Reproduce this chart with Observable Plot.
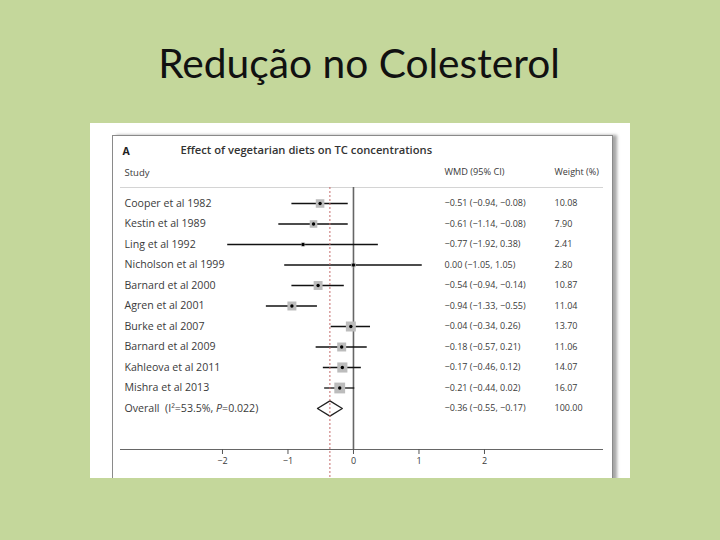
<!DOCTYPE html>
<html><head><meta charset="utf-8">
<script src="https://cdn.jsdelivr.net/npm/d3@7"></script>
<script src="https://cdn.jsdelivr.net/npm/@observablehq/plot@0.6"></script>
<style>
html,body{margin:0;padding:0;}
body{width:720px;height:540px;background:#c4d79b;position:relative;overflow:hidden;font-family:Lato, sans-serif;}
#title{position:absolute;left:0;top:42px;width:718px;text-align:center;font-size:40.7px;line-height:41px;color:#111;}
#card{position:absolute;left:90px;top:123px;width:540px;height:355px;background:#fff;overflow:hidden;}
#frame{position:absolute;left:22px;top:12px;width:499px;height:400px;border:1px solid #8a8a8a;box-shadow:4px 0 3px rgba(0,0,0,0.35);}
#chart{position:absolute;left:0;top:0;}
</style></head>
<body>
<div id="title">Redução no Colesterol</div>
<div id="card"><div id="frame"></div><div id="chart"></div></div>
<script>
const studies = ["Cooper et al 1982","Kestin et al 1989","Ling et al 1992","Nicholson et al 1999","Barnard et al 2000","Agren et al 2001","Burke et al 2007","Barnard et al 2009","Kahleova et al 2011","Mishra et al 2013"];
const wmd    = [-0.51,-0.61,-0.77, 0.00,-0.54,-0.94,-0.04,-0.18,-0.17,-0.21];
const ciLow  = [-0.94,-1.14,-1.92,-1.05,-0.94,-1.33,-0.34,-0.57,-0.46,-0.44];
const ciHigh = [-0.08,-0.08, 0.38, 1.05,-0.14,-0.55, 0.26, 0.21, 0.12, 0.02];
const weights = [10.08,7.90,2.41,2.80,10.87,11.04,13.70,11.06,14.07,16.07];
const overallLabel = "Overall  (I²=53.5%, P=0.022)";
const overallWmd = -0.36, overallLow = -0.55, overallHigh = -0.17, overallWeight = 100.00;
const xTicks = [-2,-1,0,1,2];
const panelLetter = "A";
const chartTitle = "Effect of vegetarian diets on TC concentrations";
const headers = ["Study","WMD (95% CI)","Weight (%)"];

const fmt = v => (v < 0 ? "−" : "") + Math.abs(v).toFixed(2);
const rows = studies.map((s,i)=>({i, study:s, wmd:wmd[i], lo:ciLow[i], hi:ciHigh[i], w:weights[i],
  ci:`${fmt(wmd[i])} (${fmt(ciLow[i])}, ${fmt(ciHigh[i])})`, wt:weights[i].toFixed(2)}));
const oi = studies.length;
const overallRow = [{i:oi, study:overallLabel, ci:`${fmt(overallWmd)} (${fmt(overallLow)}, ${fmt(overallHigh)})`, wt:overallWeight.toFixed(2)}];
const allRows = rows.concat(overallRow);
const dh = 0.37;
const diamond = [
  {x:overallLow, y:oi},{x:overallWmd, y:oi-dh},{x:overallHigh, y:oi},{x:overallWmd, y:oi+dh},{x:overallLow, y:oi}
];
const txt = "#3a3a3a";
const plot = Plot.plot({
  width:540, height:355, marginLeft:30, marginRight:28, marginTop:64, marginBottom:29,
  style:{background:"transparent", fontFamily:"'Open Sans', sans-serif", fontSize:"9px", color:txt},
  x:{domain:[-3.557,3.802], label:null},
  y:{domain:[-0.78,12], reverse:true, axis:null},
  r:{type:"sqrt", domain:[0,16.07], range:[0,6.1]},
  marks:[
    Plot.frame({anchor:"top", stroke:"#d4d4d4"}),
    Plot.frame({anchor:"bottom", stroke:"#666"}),
    Plot.axisX({ticks:xTicks, tickSize:5, tickPadding:3, stroke:"#555", fill:txt, fontSize:9}),
    Plot.ruleX([0], {y1:-0.78, y2:12, stroke:"#666", strokeWidth:1.6}),
    Plot.ruleY(rows, {y:"i", x1:"lo", x2:"hi", stroke:"#111", strokeWidth:1.3}),
    Plot.dot(rows, {x:"wmd", y:"i", r:"w", symbol:"square", fill:"#bcbcbc"}),
    Plot.dot(rows, {x:"wmd", y:"i", r:1.7, fill:"#000"}),
    Plot.line(diamond, {x:"x", y:"y", stroke:"#222", strokeWidth:1.3, fill:"white"}),
    Plot.ruleX([overallWmd], {y1:-0.78, y2:13.5, stroke:"#c46a6a", strokeWidth:1, strokeDasharray:"2,2"}),
    Plot.text(allRows, {y:"i", text:"study", frameAnchor:"left", dx:4, textAnchor:"start", fill:txt, fontSize:10.6}),
    Plot.text(allRows, {y:"i", text:"ci", frameAnchor:"left", dx:324, textAnchor:"start", fill:txt, fontSize:9}),
    Plot.text(allRows, {y:"i", text:"wt", frameAnchor:"left", dx:434, textAnchor:"start", fill:txt, fontSize:9}),
    Plot.text([headers[0]], {text:d=>d, frameAnchor:"top-left", dx:4, dy:-15, lineAnchor:"middle", textAnchor:"start", fill:txt, fontSize:9.5}),
    Plot.text([headers[1]], {text:d=>d, frameAnchor:"top-left", dx:324, dy:-15, lineAnchor:"middle", textAnchor:"start", fill:txt, fontSize:9.2}),
    Plot.text([headers[2]], {text:d=>d, frameAnchor:"top-left", dx:434, dy:-15, lineAnchor:"middle", textAnchor:"start", fill:txt, fontSize:9}),
    Plot.text([panelLetter], {text:d=>d, frameAnchor:"top-left", dx:2, dy:-36, lineAnchor:"middle", textAnchor:"start", fill:"#222", fontSize:10.5, fontWeight:"bold"}),
    Plot.text([chartTitle], {text:d=>d, frameAnchor:"top-left", dx:60, dy:-37, lineAnchor:"middle", textAnchor:"start", fill:"#333", fontSize:11.2, fontWeight:600})
  ]
});
document.getElementById("chart").appendChild(plot);
// italic P in overall label
d3.select(plot).selectAll("text").each(function(){
  if (this.textContent === overallLabel) {
    const el = d3.select(this);
    el.text(null).style("white-space","pre");
    const k = overallLabel.indexOf("P=");
    el.append("tspan").text(overallLabel.slice(0,k));
    el.append("tspan").attr("font-style","italic").text("P");
    el.append("tspan").text(overallLabel.slice(k+1));
  }
});
</script>
</body></html>
